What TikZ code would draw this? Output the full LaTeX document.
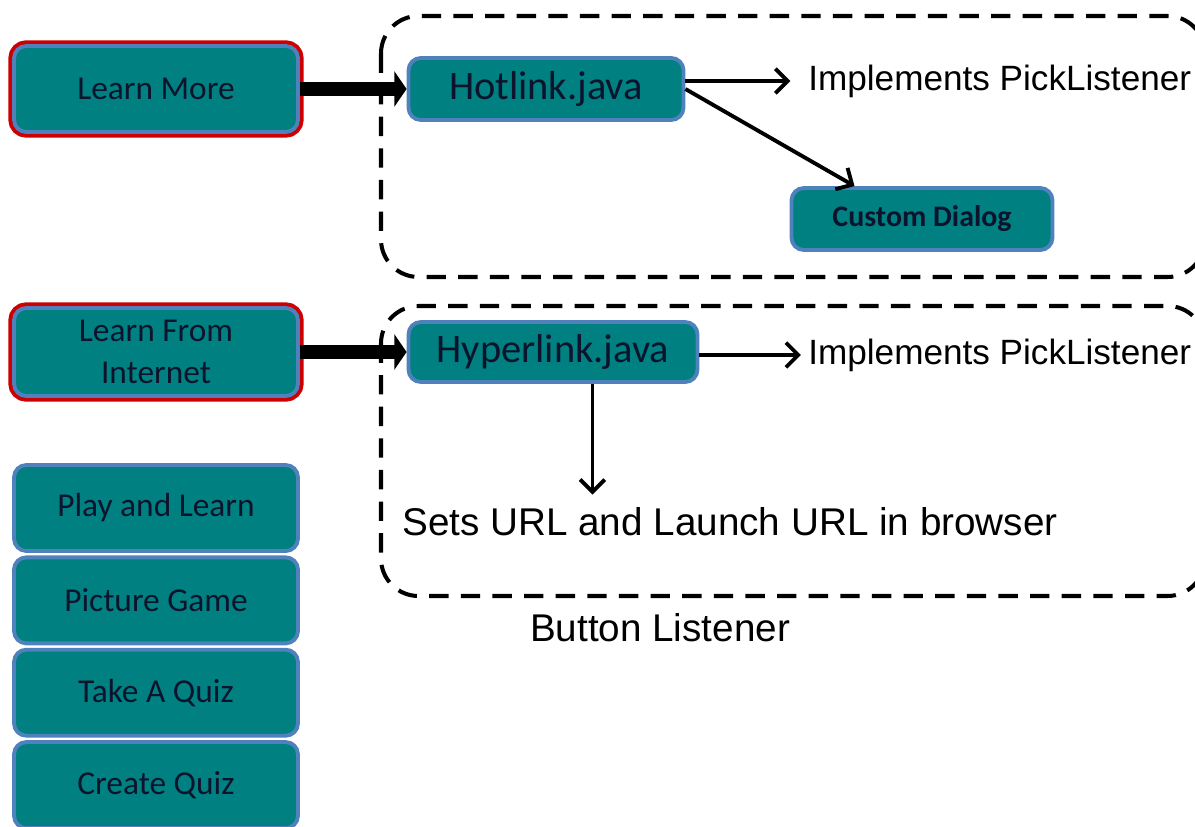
\documentclass[tikz,border=0pt]{standalone}
\usepackage{fontspec}
\setmainfont{Liberation Sans}
\newfontfamily\boxfont{Carlito}
\usetikzlibrary{positioning,arrows.meta}

\definecolor{tealfill}{RGB}{0,128,128}
\definecolor{edgeblue}{RGB}{79,129,189}
\definecolor{edgered}{RGB}{204,0,0}
\definecolor{boxtext}{RGB}{12,20,45}

\tikzset{
  btn/.style = {draw=edgeblue, line width=2.2pt, fill=tealfill, rounded corners=7pt,
                minimum width=5.68cm, minimum height=1.72cm, align=center,
                text=boxtext, font=\boxfont\fontsize{19}{24}\selectfont},
  redbtn/.style = {btn, preaction={draw=edgered, line width=6.5pt}},
  javabox/.style = {btn, font=\boxfont\fontsize{23}{26}\selectfont},
  lbl/.style = {font=\fontsize{20}{24}\selectfont},
  arr/.style = {line width=2.2pt, -{Straight Barb[length=7pt,width=14pt]}},
  fat/.style = {line width=8pt, draw=black, -{Triangle[length=7pt,width=20pt]}},
  grp/.style = {line width=2.3pt, dash pattern=on 11pt off 7pt, rounded corners=0.75cm}
}

\begin{document}
\begin{tikzpicture}[x=0.02cm, y=-0.02cm]
  \clip (0,0) rectangle (1195,827);
  % left column
  \node[redbtn] (lm) at (156,89) {Learn More};
  \node[redbtn, minimum height=1.76cm] (lfi) at (156,352) {Learn From\\Internet};
  \node[btn] (pl) at (156,508) {Play and Learn};
  \node[btn, below=0.05cm of pl] (pg) {Picture Game};
  \node[btn, below=0.05cm of pg] (tq) {Take A Quiz};
  \node[btn, below=0.05cm of tq] (cq) {Create Quiz};

  % listeners
  \draw[grp] (381,16) rectangle (1205,277);
  \draw[grp] (381,306) rectangle (1205,596);
  \node[lbl, font=\fontsize{22}{26}\selectfont] (bl) at (660,628) {Button Listener};

  \node[javabox, minimum width=5.5cm, minimum height=1.24cm] (hot) at (546,89) {Hotlink.java};
  \node[btn, minimum width=5.22cm, minimum height=1.24cm,
        font=\boxfont\bfseries\fontsize{17}{20}\selectfont] (cd) at (922,219) {Custom Dialog};
  \node[lbl, anchor=west, inner sep=0pt] (imp1) at (808,81) {Implements PickListener};

  \node[javabox, minimum width=5.78cm, minimum height=1.2cm] (hyp) at (553,352) {Hyperlink.java};
  \node[lbl, anchor=west, inner sep=0pt] (imp2) at (808,355) {Implements PickListener};
  \node[lbl, font=\fontsize{22}{26}\selectfont] (sets) at (730,522) {Sets URL and Launch URL in browser};

  % connectors
  \draw[fat] (lm.east) -- (hot.west);
  \draw[fat] (lfi.east) -- (hyp.west);
  \draw[arr, shorten >=10pt] (hot.east |- imp1.west) -- (imp1.west);
  \draw[arr] (hot.east) -- (cd.154);
  \draw[arr, shorten >=4pt] (hyp.east |- imp2.west) -- (imp2.west);
  \draw[arr, shorten >=4pt] (hyp.-39) -- (hyp.-39 |- sets.north);
\end{tikzpicture}
\end{document}
